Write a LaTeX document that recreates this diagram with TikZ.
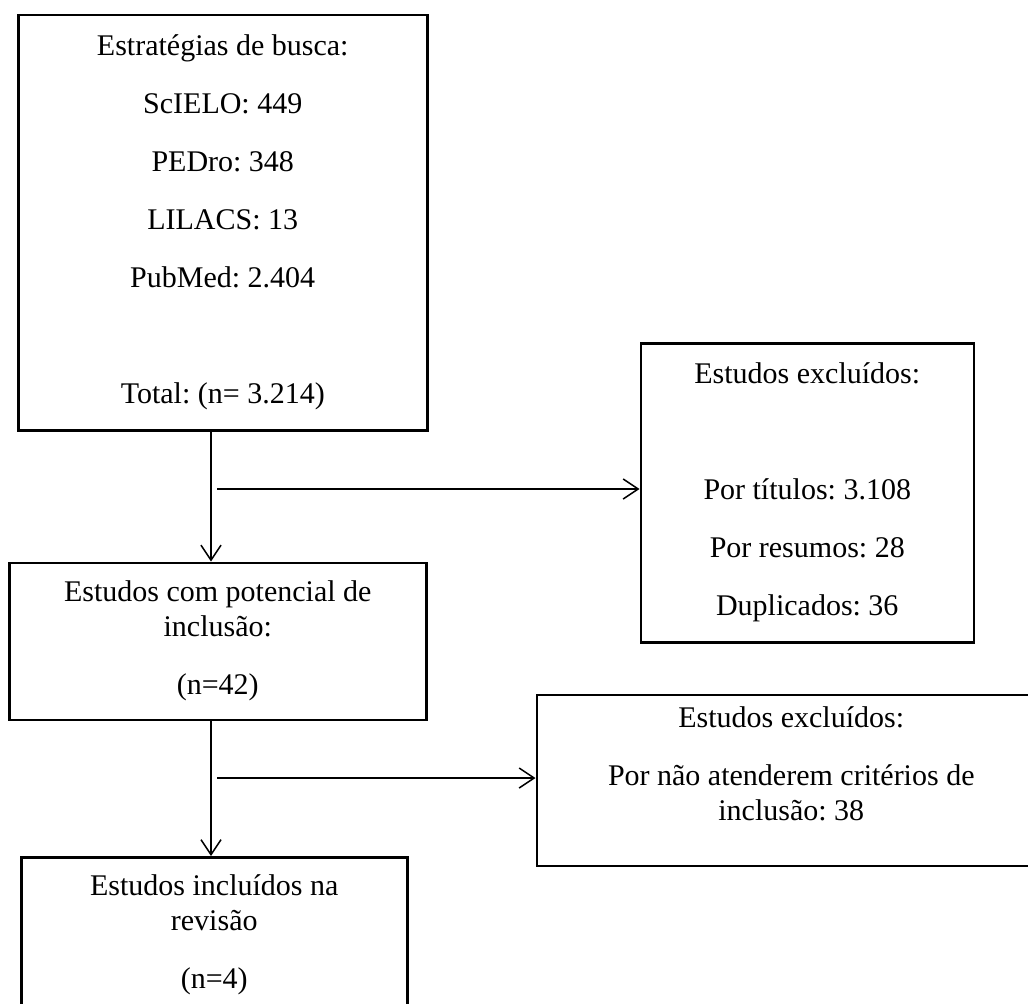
\documentclass[tikz,border=0pt]{standalone}
\usepackage{fontspec}
\setmainfont{Liberation Serif}
\frenchspacing
\usetikzlibrary{calc,positioning,arrows.meta,%
    shapes}
\newcommand{\pbreak}{\\[9.2pt]}
\tikzset{
>={Straight Barb[length=6pt,width=8pt]},
  caixa/.style={
    rectangle,
    draw=black, line width=1pt,
    inner sep=0pt,
    align=center,
    font=\fontsize{12}{14}\selectfont},
  seta/.style={draw, line width=0.6pt, ->},
}

\begin{document}
\begin{tikzpicture}
  \useasboundingbox (0,0) rectangle (411.2pt,-401.2pt);
  % the main column on the left
  \node[caixa, anchor=north west, minimum width=163.6pt, minimum height=166pt]
    (busca) at (6.8pt,-5.6pt)
    {Estratégias de busca:\pbreak ScIELO: 449\pbreak PEDro: 348\pbreak
     LILACS: 13\pbreak PubMed: 2.404\pbreak\mbox{}\pbreak Total: (n= 3.214)};
  \node[caixa, below=52pt of busca.south west, anchor=north west, xshift=-3.6pt,
    minimum width=166.8pt, minimum height=62.8pt]
    (potencial) {Estudos com potencial de\\ inclusão:\pbreak (n=42)};
  \node[caixa, below=54pt of potencial.south west, anchor=north west, xshift=4.8pt,
    minimum width=154.4pt, minimum height=62pt]
    (incluidos) {Estudos incluídos na\\ revisão\pbreak (n=4)};
  % the excluded studies on the right
  \node[caixa, right=84.4pt of busca.north east, anchor=north west, yshift=-131.2pt,
    minimum width=133.2pt, minimum height=119.6pt]
    (excl1) {Estudos excluídos:\pbreak\mbox{}\pbreak Por títulos: 3.108\pbreak
     Por resumos: 28\pbreak Duplicados: 36};
  %% text sits a little high in this one
  \node[caixa, right=43.2pt of potencial.north east, anchor=north west, yshift=-52.8pt,
    minimum width=203.6pt, minimum height=68.4pt, text depth=13pt]
    (excl2) {Estudos excluídos:\pbreak Por não atenderem critérios de\\ inclusão: 38};
  % Now the connectors, branching off the vertical lines
  \coordinate (ramo1) at (84.4pt,-195.6pt);
  \coordinate (ramo2) at (84.4pt,-311.2pt);
  \draw[seta] (busca.south -| ramo1) -- (potencial.north -| ramo1);
  \draw[seta] ([xshift=2.4pt]ramo1) -- (excl1.west |- ramo1);
  \draw[seta] (potencial.south -| ramo2) -- (incluidos.north -| ramo2);
  \draw[seta] ([xshift=2.4pt]ramo2) -- (excl2.west |- ramo2);
\end{tikzpicture}
\end{document}
